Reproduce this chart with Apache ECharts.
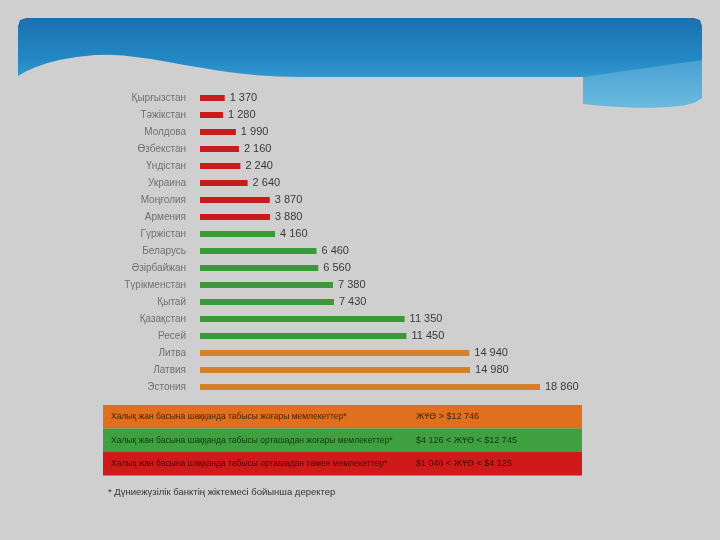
<!DOCTYPE html>
<html><head><meta charset="utf-8">
<script src="https://cdn.jsdelivr.net/npm/echarts@6/dist/echarts.min.js"></script>
<style>html,body{margin:0;padding:0;background:#cfcfcf;}#c{width:720px;height:540px;}</style>
</head><body><div id="c"></div>
<script>
const countries = ['Қырғызстан','Тәжікстан','Молдова','Өзбекстан','Үндістан','Украина','Моңғолия','Армения','Гүржістан','Беларусь','Әзірбайжан','Түрікменстан','Қытай','Қазақстан','Ресей','Литва','Латвия','Эстония'];
const gni = [1370,1280,1990,2160,2240,2640,3870,3880,4160,6460,6560,7380,7430,11350,11450,14940,14980,18860];
const groups = ['low','low','low','low','low','low','low','low','mid','mid','mid','mid','mid','mid','mid','high','high','high'];
const groupColors = {low:'#c81c1c', mid:'#3a9a3a', high:'#d5802a'};
const tableRows = [
  ['Халық жан басына шаққанда табысы жоғары мемлекеттер*','ЖҰӨ > $12 746','#e0701e','#3d1f08'],
  ['Халық жан басына шаққанда табысы орташадан жоғары мемлекеттер*','$4 126 < ЖҰӨ < $12 745','#3ea03e','#123812'],
  ['Халық жан басына шаққанда табысы орташадан төмен мемлекеттер*','$1 046 < ЖҰӨ < $4 125','#d01a1a','#4a0606']
];
const footnote = '* Дүниежүзілік банктің жіктемесі бойынша деректер';

const fmt = v => String(v).replace(/\B(?=(\d{3})+(?!\d))/g, ' ');

// decorative banner outline
function cubic(p0,p1,p2,p3,n){const o=[];for(let i=0;i<=n;i++){const t=i/n,u=1-t;o.push([u*u*u*p0[0]+3*u*u*t*p1[0]+3*u*t*t*p2[0]+t*t*t*p3[0],u*u*u*p0[1]+3*u*u*t*p1[1]+3*u*t*t*p2[1]+t*t*t*p3[1]]);}return o;}
const banner = [[18,26],[20,20],[26,18],[694,18],[700,20],[702,26],[702,98]]
  .concat(cubic([702,98],[690,112],[620,108],[583,104],8))
  .concat([[583,77],[300,77]])
  .concat(cubic([300,77],[210,77],[150,52],[95,55],12))
  .concat(cubic([95,55],[55,58],[32,67],[18,76],6));
const bannerRight = [[583,77],[702,60]].concat(cubic([702,98],[690,112],[620,108],[583,104],8));

const chart = echarts.init(document.getElementById('c'));

const graphics = [
  {type:'polygon', z:-10, shape:{points:banner},
   style:{fill:{type:'linear',x:0,y:0,x2:0,y2:1,colorStops:[{offset:0,color:'#1d6fae'},{offset:0.45,color:'#2288c4'},{offset:1,color:'#55aedc'}]}}},
  {type:'polygon', z:-9, shape:{points:bannerRight}, style:{fill:'rgba(160,215,240,0.3)'}}
];
const tx = 103, tw = 479, rh = 23.5, ty = 405;
tableRows.forEach((r,i)=>{
  graphics.push({type:'rect', shape:{x:tx,y:ty+i*rh,width:tw,height:rh}, style:{fill:r[2]}});
  graphics.push({type:'text', x:tx+8, y:ty+i*rh+rh/2, style:{text:r[0], fill:r[3], font:'8.5px "Liberation Sans"', verticalAlign:'middle'}});
  graphics.push({type:'text', x:416, y:ty+i*rh+rh/2, style:{text:r[1], fill:r[3], font:'9px "Liberation Sans"', verticalAlign:'middle'}});
});
graphics.push({type:'text', x:108, y:492, style:{text:footnote, fill:'#333', font:'9.5px "Liberation Sans"', verticalAlign:'middle'}});

chart.setOption({
  backgroundColor:'#cfcfcf',
  animation:false,
  grid:{left:200, top:89.5, width:340, height:306, containLabel:false},
  xAxis:{type:'value', min:0, max:18860, show:false},
  yAxis:{type:'category', data:countries, inverse:true,
    axisLine:{show:false}, axisTick:{show:false},
    axisLabel:{color:'#707070', fontSize:10, fontFamily:'Liberation Sans Narrow, Liberation Sans', margin:14}},
  series:[{type:'bar', data:gni, barWidth:6,
    itemStyle:{color:p=>groupColors[groups[p.dataIndex]]},
    label:{show:true, position:'right', distance:5, color:'#3a3a3a', fontSize:11, fontFamily:'Liberation Sans Narrow, Liberation Sans', formatter:p=>fmt(p.value)}}],
  graphic:graphics
});
</script></body></html>
